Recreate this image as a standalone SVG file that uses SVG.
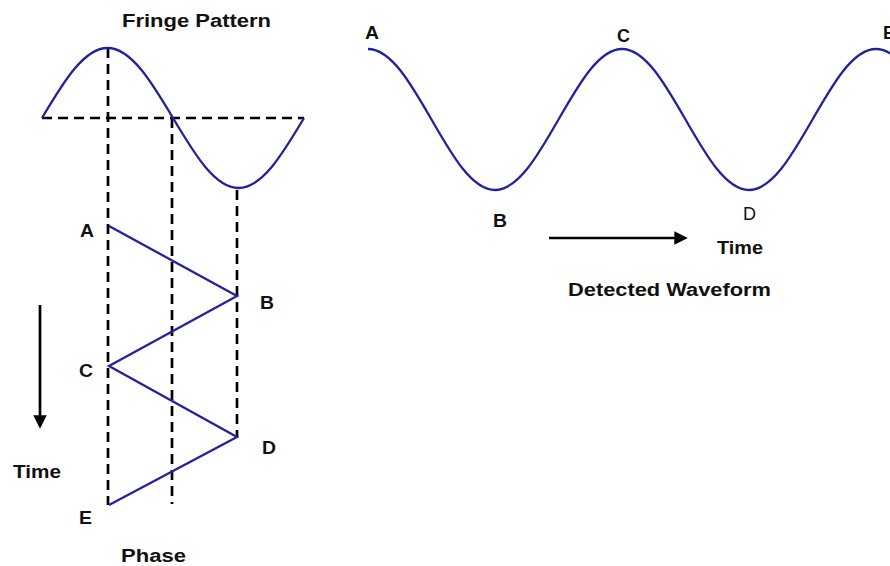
<svg xmlns="http://www.w3.org/2000/svg" width="890" height="566" viewBox="0 0 890 566">
<defs>
<style>
.wave{fill:none;stroke:#22229a;stroke-width:2.3}
.dash{fill:none;stroke:#000;stroke-width:2.7;stroke-dasharray:10 6}
.arr{fill:none;stroke:#000;stroke-width:2.7}
.lb{font-family:"Liberation Sans",Arial,sans-serif;font-weight:bold;font-size:18px;fill:#111}
.ln{font-family:"Liberation Sans",Arial,sans-serif;font-weight:normal;font-size:18px;fill:#111}
</style>
<marker id="ah" viewBox="0 0 10 10" refX="2" refY="5" markerWidth="5" markerHeight="5" orient="auto" markerUnits="strokeWidth">
<path d="M0,0 L10,5 L0,10 z" fill="#000"/>
</marker>
</defs>
<rect width="890" height="566" fill="#fff"/>

<g id="connectors">
<line class="dash" x1="42" y1="118" x2="304" y2="118"/>
<line class="dash" x1="108" y1="48" x2="108" y2="505"/>
<line class="dash" x1="172" y1="118" x2="172" y2="504"/>
<line class="dash" x1="237" y1="190" x2="237" y2="437"/>
<polyline class="wave" points="109,226 237,296 109,366 237,437 109,505"/>
<line class="arr" x1="40" y1="305" x2="40" y2="418" marker-end="url(#ah)"/>
<line class="arr" x1="549" y1="238" x2="677" y2="238" marker-end="url(#ah)"/>
</g>

<g id="fringe-pattern">
<path class="wave" d="M42,118 C63.4,82.1 83.8,48 107.5,48 C131.2,48 151.6,82.1 173,118 C194.4,153.9 214.8,188 238.5,188 C262.2,188 282.6,153.9 304,118"/>
<text class="lb" x="122" y="27" font-size="19" textLength="149" lengthAdjust="spacingAndGlyphs">Fringe Pattern</text>
</g>

<g id="phase-labels">
<text class="lb" x="80" y="237" textLength="14" lengthAdjust="spacingAndGlyphs">A</text>
<text class="lb" x="260" y="309" textLength="14" lengthAdjust="spacingAndGlyphs">B</text>
<text class="lb" x="79" y="377" textLength="14" lengthAdjust="spacingAndGlyphs">C</text>
<text class="lb" x="262" y="454" textLength="14" lengthAdjust="spacingAndGlyphs">D</text>
<text class="lb" x="79" y="524" textLength="13" lengthAdjust="spacingAndGlyphs">E</text>
<text class="lb" x="13" y="478" textLength="48" lengthAdjust="spacingAndGlyphs">Time</text>
<text class="lb" x="121" y="562" textLength="65" lengthAdjust="spacingAndGlyphs">Phase</text>
</g>

<g id="detected-waveform">
<path class="wave" d="M368,49 C391,49 410.8,83.4 431.5,119.5 C452.2,155.6 472,190 495,190 C518,190 537.8,155.6 558.5,119.5 C579.2,83.4 599,49 622,49 C645,49 664.8,83.4 685.5,119.5 C706.2,155.6 726,190 749,190 C772,190 791.8,155.6 812.5,119.5 C833.2,83.4 853,49 876,49 C899,49 918.8,83.4 939.5,119.5"/>
<text class="lb" x="365" y="39" textLength="14" lengthAdjust="spacingAndGlyphs">A</text>
<text class="lb" x="617" y="42" textLength="13" lengthAdjust="spacingAndGlyphs">C</text>
<text class="lb" x="883" y="39">E</text>
<text class="lb" x="493" y="227" textLength="14" lengthAdjust="spacingAndGlyphs">B</text>
<text class="ln" x="743" y="220">D</text>
<text class="lb" x="717" y="254" textLength="46" lengthAdjust="spacingAndGlyphs">Time</text>
<text class="lb" x="568" y="296" textLength="203" lengthAdjust="spacingAndGlyphs">Detected Waveform</text>
</g>
</svg>
